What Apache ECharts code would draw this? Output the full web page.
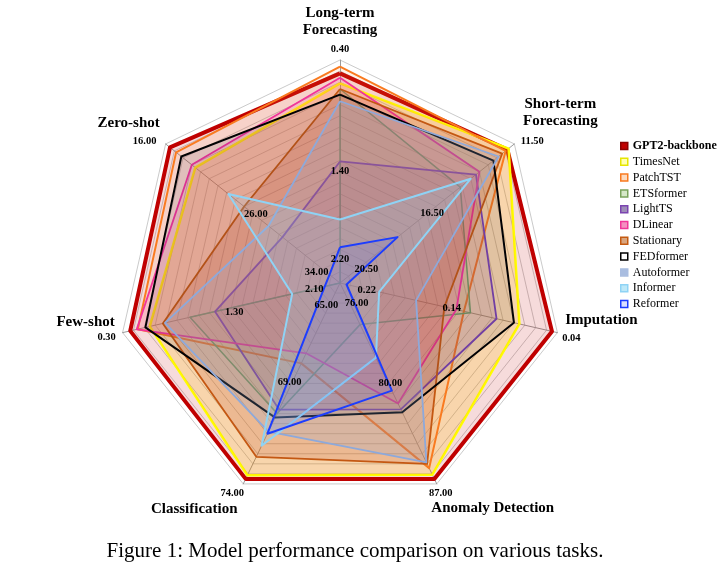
<!DOCTYPE html>
<html><head><meta charset="utf-8">
<script src="https://cdn.jsdelivr.net/npm/echarts/dist/echarts.min.js"></script>
<style>html,body{margin:0;padding:0;background:#fff}#c{width:726px;height:572px}</style>
</head><body><div id="c"></div>
<script>
// ---- data (clockwise from top) ----
const tasks = ['Long-term\nForecasting','Short-term\nForecasting','Imputation','Anomaly Detection','Classification','Few-shot','Zero-shot'];
const outerValue = [0.40, 11.50, 0.04, 87.00, 74.00, 0.30, 16.00];   // value at outer ring
const centerValue = [2.40, 21.50, 0.24, 73.00, 64.00, 2.30, 36.00];  // value at centre
const outerLabels = ['0.40','11.50','0.04','87.00','74.00','0.30','16.00'];
const midLabels   = ['1.40','16.50','0.14','80.00','69.00','1.30','26.00'];
const innerLabels = ['2.20','20.50','0.22','76.00','65.00','2.10','34.00'];
const models = ['GPT2-backbone','TimesNet','PatchTST','ETSformer','LightTS','DLinear','Stationary','FEDformer','Autoformer','Informer','Reformer'];
const gpt2Values       = [0.52, 11.90, 0.045, 86.65, 73.75, 0.37, 16.5];
const timesNetValues   = [0.61, 11.83, 0.075, 86.36, 73.57, 0.55, 19.4];
const patchTSTValues   = [0.46, 12.00, 0.126, 85.90, 68.00, 0.44, 17.2];
const etsformerValues  = [0.66, 14.60, 0.120, 75.90, 70.50, 0.92, 36.0];
const lightTSValues    = [1.31, 13.70, 0.096, 81.80, 70.30, 1.15, 29.4];
const dlinearValues    = [0.56, 13.50, 0.133, 81.40, 67.50, 0.43, 19.0];
const stationaryValues = [0.66, 12.20, 0.144, 85.60, 72.65, 0.67, 25.0];
const fedformerValues  = [0.71, 12.70, 0.080, 82.00, 70.70, 0.51, 17.8];
const autoformerValues = [0.77, 12.40, 0.170, 85.50, 71.40, 0.69, 27.8];
const informerValues   = [1.83, 14.00, 0.204, 78.20, 72.10, 1.86, 23.2];
const reformerValues   = [2.08, 18.20, 0.234, 80.50, 71.50, 2.16, 34.8];
const allValues = [gpt2Values, timesNetValues, patchTSTValues, etsformerValues, lightTSValues, dlinearValues,
  stationaryValues, fedformerValues, autoformerValues, informerValues, reformerValues];

// ---- styles ----
const lineColors = ['#C00000','#FFFF00','#F97A1F','#7AA35C','#7B44B0','#F0359A','#C55A11','#000000','#8EA9DB','#8FD3F5','#1A3BFF'];
const areaColors = ['rgba(192,0,0,0.20)','rgba(255,192,0,0.30)','rgba(255,140,60,0.15)','rgba(112,173,71,0.12)',
  'rgba(112,48,160,0.16)','rgba(255,51,153,0.20)','rgba(190,70,40,0.28)','rgba(40,40,80,0.15)',
  'rgba(142,169,219,0.30)','rgba(143,216,248,0.25)','rgba(80,100,240,0.20)'];
const lineWidths = [4, 2.5, 2, 1.5, 1.8, 1.8, 1.8, 2, 1.8, 2, 2];
const legendFill = ['#C00000','#FFFFB0','#FCD9BE','#D6E8C8','#9E8DB8','#F48FC0','#D9A57E','#FFFFFF','#A9BDE0','#BDE8F8','#D8DEFF'];
const legendBorder = ['#8B0000','#E6E600','#F97A1F','#7AA35C','#7B44B0','#F0359A','#C55A11','#000000','#A9BDE0','#8FD3F5','#1A3BFF'];

const CX = 340, CY = 283, R = 223;
const FONT = '"Liberation Serif","Times New Roman",serif';
const order = [0,6,5,4,3,2,1]; // echarts draws indicators counter-clockwise
const n = tasks.length;
function norm(v, i){ return (v - centerValue[i]) / (outerValue[i] - centerValue[i]); }
function pt(i, r){ const a = i*2*Math.PI/n; return [CX + R*r*Math.sin(a), CY - R*r*Math.cos(a)]; }

const nameOffset  = [[0,-38],[46,-31],[44,-12],[56,24],[-49,25],[-37,-10],[-37,-21]];
const outerOffset = [[0,-11],[18,-3],[14,6],[4,9],[-11,9],[-16,5],[-21,-3]];
const midOffset   = [[0,0],[5,0],[3,0],[2,0],[-2,-1],[3,4],[3,1]];
const innerOffset = [[0,-1],[9,0],[5,2],[7,0],[-4,2],[-4,1],[-6,3]];

const graphics = [];
const tickFont = 'bold 10.5px '+FONT;
for (let i=0;i<n;i++){
  const v = pt(i,1);
  graphics.push({type:'text', x:v[0]+nameOffset[i][0], y:v[1]+nameOffset[i][1], z:100,
    style:{text:tasks[i], fill:'#000', font:'bold 15px '+FONT, align:'center', verticalAlign:'middle', lineHeight:17}});
  graphics.push({type:'text', x:v[0]+outerOffset[i][0], y:v[1]+outerOffset[i][1], z:100,
    style:{text:outerLabels[i], fill:'#000', font:tickFont, align:'center', verticalAlign:'middle'}});
  const m = pt(i,0.5), q = pt(i,0.1);
  graphics.push({type:'text', x:m[0]+midOffset[i][0], y:m[1]+midOffset[i][1], z:100,
    style:{text:midLabels[i], fill:'#000', font:tickFont, align:'center', verticalAlign:'middle'}});
  graphics.push({type:'text', x:q[0]+innerOffset[i][0], y:q[1]+innerOffset[i][1], z:100,
    style:{text:innerLabels[i], fill:'#000', font:tickFont, align:'center', verticalAlign:'middle'}});
}
graphics.push({type:'text', x:355, y:551, style:{text:'Figure 1: Model performance comparison on various tasks.',
  fill:'#000', font:'21px '+FONT, align:'center', verticalAlign:'middle'}});

const chart = echarts.init(document.getElementById('c'), null, {renderer:'canvas'});
chart.setOption({
  animation:false,
  backgroundColor:'#fff',
  legend:{
    orient:'vertical', left:615, top:135, itemWidth:7, itemHeight:7, itemGap:3.8, icon:'rect',
    selectedMode:false,
    textStyle:{fontFamily:FONT, fontSize:12, color:'#000', lineHeight:12},
    data: models.map((m,k)=>({name:m, itemStyle:{color:legendFill[k], borderColor:legendBorder[k], borderWidth:1.5},
      textStyle: k===0?{fontWeight:'bold'}:{} }))
  },
  radar:{
    center:[CX, CY], radius:R, startAngle:90, shape:'polygon', splitNumber:20,
    indicator: order.map(i=>({name:'', min:0, max:1})),
    axisName:{show:false},
    axisLine:{lineStyle:{color:'#9a9a9a', width:1}},
    splitLine:{lineStyle:{color:['#808080'], width:0.7, opacity:0.6}},
    splitArea:{show:false},
    axisLabel:{show:false}, axisTick:{show:false}
  },
  series: allValues.map((vals,k)=>({
    type:'radar', name:models[k], symbol:'none', silent:true, z:2+k,
    lineStyle:{color:lineColors[k], width:lineWidths[k]},
    itemStyle:{color:lineColors[k]},
    areaStyle:{color:areaColors[k]},
    emphasis:{disabled:true},
    data:[{value: order.map(i=>norm(vals[i], i)), name:models[k]}]
  })),
  graphic: graphics
});
</script></body></html>
